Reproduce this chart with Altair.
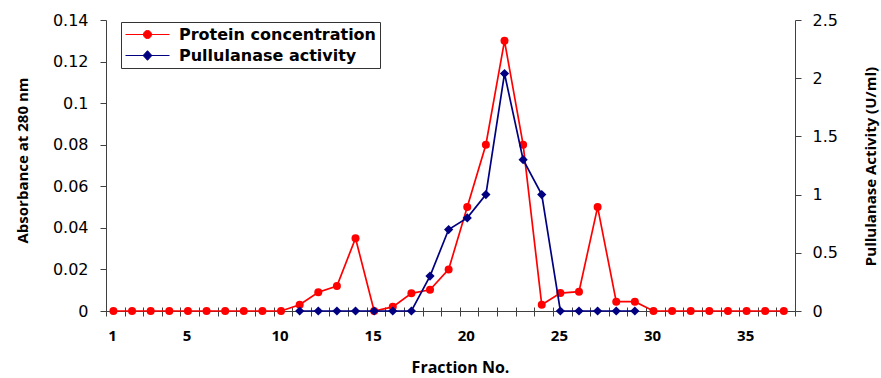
import altair as alt
import pandas as pd

# Fraction numbers collected from the column
fractions = list(range(1, 38))

# Absorbance at 280 nm for each fraction (protein concentration)
protein = [0, 0, 0, 0, 0, 0, 0, 0, 0, 0,
           0.003, 0.009, 0.012, 0.035, 0, 0.002, 0.0085, 0.0102, 0.02, 0.05,
           0.08, 0.13, 0.08, 0.003, 0.0086, 0.0093, 0.05, 0.0045, 0.0045, 0,
           0, 0, 0, 0, 0, 0, 0]

# Pullulanase activity (U/ml), assayed for fractions 11-29
activity_fractions = list(range(11, 30))
activity = [0, 0, 0, 0, 0, 0, 0,
            0.3, 0.7, 0.8, 1.0, 2.04, 1.3, 1.0,
            0, 0, 0, 0, 0]

series_names = ["Protein concentration", "Pullulanase activity"]
series_colors = ["#FF0000", "#000080"]

prot_df = pd.DataFrame({"Fraction": fractions, "Value": protein})
act_df = pd.DataFrame({"Fraction": activity_fractions, "Value": activity})
legend_df = pd.DataFrame({"Series": series_names})

# category boundaries for the x axis tick marks
x_domain = [0.6, 37.6]
boundary_ticks = [round(0.6 + k, 1) for k in range(38)]

TITLE_FONT = "Open Sans"
NUM_FONT = "DejaVu Sans"
AXIS_COLOR = "#404040"

# legend symbols: a short line with the series marker in the middle
RED_PATH = "M-1,0L4.5,0M2.25,0A0.5,0.5,0,1,1,1.25,0A0.5,0.5,0,1,1,2.25,0Z"
BLUE_PATH = "M-1,0L4.5,0M1.75,-0.6L2.3,0L1.75,0.6L1.2,0Z"


def make_legend():
    return alt.Legend(
        title=None,
        orient="none",
        legendX=15,
        legendY=2,
        direction="vertical",
        labelFont=NUM_FONT,
        labelFontWeight="bold",
        labelFontSize=16,
        labelColor="black",
        labelOffset=37,
        labelLimit=400,
        symbolSize=256,
        symbolStrokeWidth=1,
        symbolOpacity=1,
        rowPadding=4,
        padding=4,
        strokeColor="#333333",
        fillColor="white",
    )


# label fraction 1 and every fifth fraction, centred on its category
x_label_expr = (
    "(round(datum.value) == 1 || round(datum.value) % 5 == 0) && round(datum.value) < 37 ? "
    "toString(round(datum.value)) : ''"
)

protein_layer = alt.Chart(prot_df).mark_line(
    strokeWidth=1.7,
    color=series_colors[0],
    point=alt.OverlayMarkDef(filled=True, shape="circle", size=64, color=series_colors[0], opacity=1),
).encode(
    x=alt.X(
        "Fraction:Q",
        scale=alt.Scale(domain=x_domain, nice=False, zero=False),
        axis=alt.Axis(
            orient="bottom",
            values=boundary_ticks,
            labelExpr=x_label_expr,
            labelOffset=6,
            labelFlush=False,
            labelOverlap=False,
            labelBound=False,
            labelFont=TITLE_FONT,
            labelFontWeight="bold",
            labelFontSize=15,
            labelColor="black",
            labelPadding=12,
            tickSize=5,
            tickColor=AXIS_COLOR,
            domainColor=AXIS_COLOR,
            grid=False,
            title="Fraction No.",
            titleFont=TITLE_FONT,
            titleFontSize=16,
            titleFontWeight="bold",
            titleColor="black",
            titleX=354,
            titleY=61,
            titleBaseline="alphabetic",
        ),
    ),
    y=alt.Y(
        "Value:Q",
        scale=alt.Scale(domain=[0, 0.14], nice=False),
        axis=alt.Axis(
            orient="left",
            values=[0, 0.02, 0.04, 0.06, 0.08, 0.1, 0.12, 0.14],
            format="~g",
            labelFont=NUM_FONT,
            labelFontSize=16,
            labelColor="black",
            labelPadding=12,
            tickSize=6,
            tickColor=AXIS_COLOR,
            domainColor=AXIS_COLOR,
            grid=False,
            title="Absorbance at 280 nm",
            titleFont=TITLE_FONT,
            titleFontSize=15,
            titleFontWeight="bold",
            titleColor="black",
            titleAngle=270,
            titleX=-79,
            titleY=140,
            titleAlign="center",
            titleBaseline="alphabetic",
        ),
    ),
)

activity_layer = alt.Chart(act_df).mark_line(
    strokeWidth=1.7,
    color=series_colors[1],
    point=alt.OverlayMarkDef(filled=True, shape="diamond", size=85, color=series_colors[1], opacity=1),
).encode(
    x=alt.X(
        "Fraction:Q",
        scale=alt.Scale(domain=x_domain, nice=False, zero=False),
        axis=alt.Axis(
            orient="top",
            offset=-291,
            values=boundary_ticks,
            labels=False,
            domain=False,
            tickSize=4,
            tickColor=AXIS_COLOR,
            grid=False,
            title=None,
        ),
    ),
    y=alt.Y(
        "Value:Q",
        scale=alt.Scale(domain=[0, 2.5], nice=False),
        axis=alt.Axis(
            orient="right",
            values=[0, 0.5, 1, 1.5, 2, 2.5],
            format="~g",
            labelFont=NUM_FONT,
            labelFontSize=16,
            labelColor="black",
            labelPadding=11,
            tickSize=6,
            tickColor=AXIS_COLOR,
            domainColor=AXIS_COLOR,
            grid=False,
            title="Pullulanase Activity (U/ml)",
            titleFont=TITLE_FONT,
            titleFontSize=15,
            titleFontWeight="bold",
            titleColor="black",
            titleAngle=270,
            titleX=80,
            titleY=146,
            titleAlign="center",
            titleBaseline="alphabetic",
        ),
    ),
)

# legend-only layer: invisible points carrying the series key
legend_layer = alt.Chart(legend_df).mark_point(filled=True, opacity=0, size=256).encode(
    fill=alt.Fill("Series:N", scale=alt.Scale(domain=series_names, range=series_colors), legend=make_legend()),
    stroke=alt.Stroke("Series:N", scale=alt.Scale(domain=series_names, range=series_colors), legend=make_legend()),
    shape=alt.Shape("Series:N", scale=alt.Scale(domain=series_names, range=[RED_PATH, BLUE_PATH]), legend=make_legend()),
)

chart = (
    alt.layer(protein_layer, activity_layer, legend_layer)
    .resolve_scale(y="independent")
    .resolve_axis(x="independent", y="independent")
    .properties(
        width=689,
        height=291,
        padding={"left": 106, "top": 20, "right": 86, "bottom": 67},
        autosize=alt.AutoSizeParams(type="none"),
        background="white",
    )
    .configure_view(stroke=None)
)

chart.save("out.html", embed_options={"renderer": "svg", "actions": False})
